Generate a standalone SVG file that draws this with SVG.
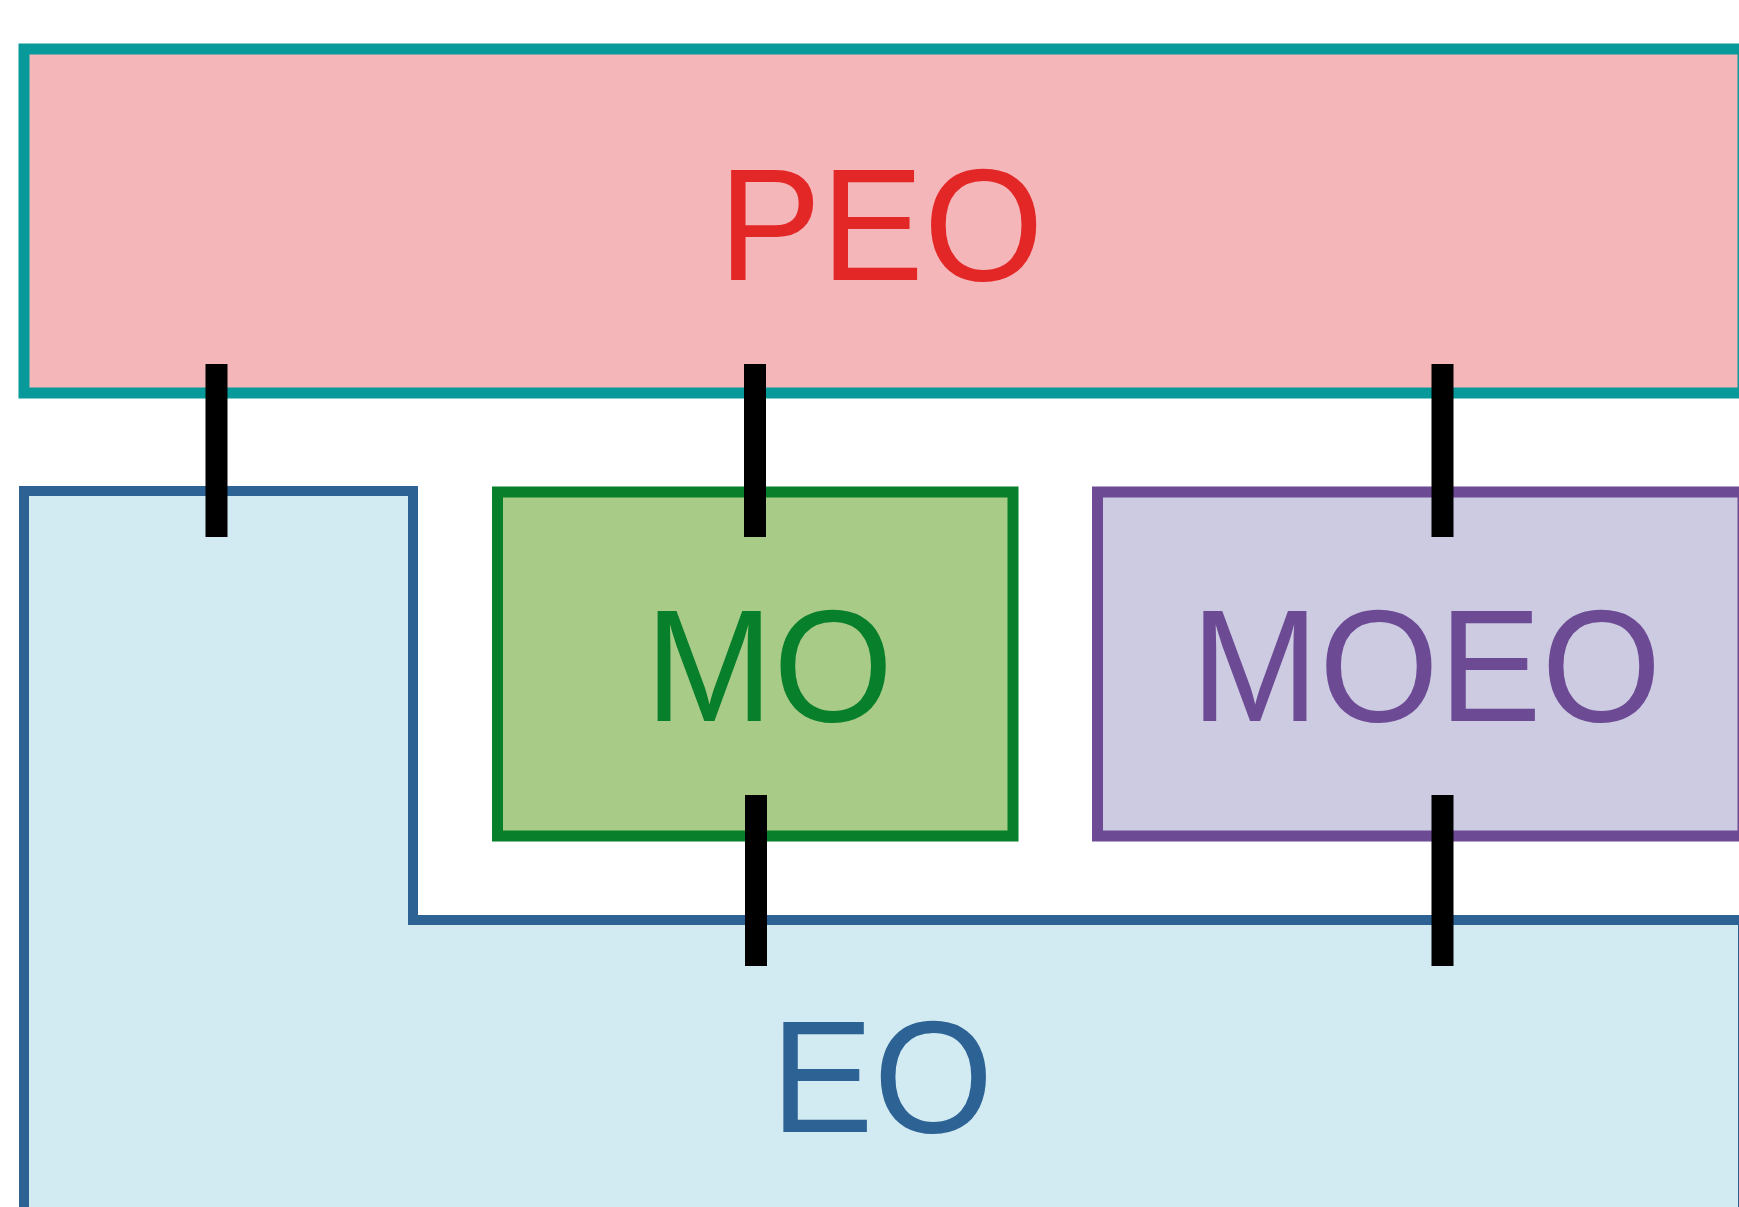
<svg xmlns="http://www.w3.org/2000/svg" width="1739" height="1207" viewBox="0 0 1739 1207">
<style>
.lbl{font-family:"Liberation Sans",Arial,sans-serif;font-size:154px;text-anchor:middle}
.bar{stroke:#000;stroke-width:22;stroke-linecap:butt;fill:none}
</style>
<rect width="1739" height="1207" fill="#ffffff"/>
<g id="PEO">
<rect x="24" y="49" width="1719" height="344" fill="#f5b6b9" stroke="#089a9a" stroke-width="11"/>
<text class="lbl" transform="translate(881,280) scale(1,1.04)" fill="#e32726">PEO</text>
</g>
<g id="EO">
<path d="M24,491 H413 V920 H1743 V1220 H24 Z" fill="#d2eaf1" stroke="#2d6295" stroke-width="10"/>
<text class="lbl" transform="translate(882,1132) scale(1,1.04)" fill="#2d6295">EO</text>
</g>
<g id="MO">
<rect x="497.5" y="492" width="515.5" height="344" fill="#a8cb88" stroke="#077f2b" stroke-width="11"/>
<text class="lbl" transform="translate(769,721) scale(1,1.04)" fill="#077f2b">MO</text>
</g>
<g id="MOEO">
<rect x="1097.5" y="492" width="645.5" height="344" fill="#cccbe2" stroke="#6c4a94" stroke-width="11"/>
<text class="lbl" transform="translate(1426,721) scale(1,1.04)" fill="#6c4a94">MOEO</text>
</g>
<g id="connectors">
<line class="bar" x1="216.5" y1="364" x2="216.5" y2="537"/>
<line class="bar" x1="755" y1="364" x2="755" y2="537"/>
<line class="bar" x1="1442.5" y1="364" x2="1442.5" y2="537"/>
<line class="bar" x1="756" y1="795" x2="756" y2="966"/>
<line class="bar" x1="1442.5" y1="795" x2="1442.5" y2="966"/>
</g>
</svg>
